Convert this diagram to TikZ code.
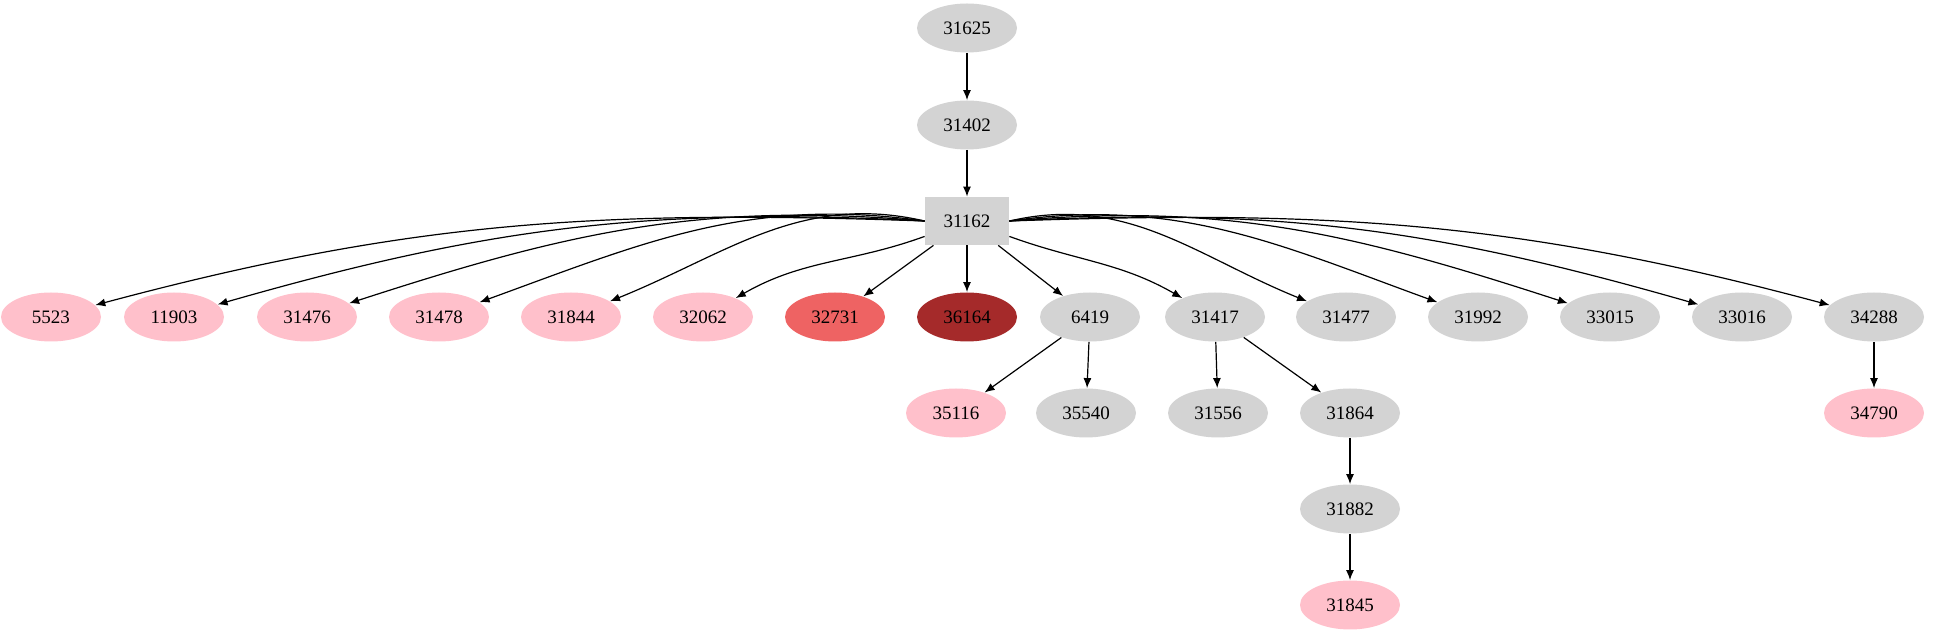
\documentclass[tikz,border=0pt]{standalone}
\usepackage{fontspec}
\setmainfont{Liberation Serif}
\usetikzlibrary{arrows.meta,shapes.geometric}
\definecolor{pk}{HTML}{FFC0CB}
\definecolor{lg}{HTML}{D3D3D3}
\definecolor{ir}{HTML}{EE6363}
\definecolor{br}{HTML}{A52A2A}
\begin{document}
\begin{tikzpicture}[x=0.5pt,y=-0.5pt,
  nd/.style={ellipse,fill=lg,minimum width=50pt,minimum height=24.5pt,inner sep=0pt,font=\fontsize{9.5}{10}\selectfont},
  pn/.style={nd,fill=pk},
  ar/.style={-{Latex[length=5pt,width=4pt]},line width=0.6pt}]
\useasboundingbox (0,0) rectangle (1934,635);
\node[nd] (n31625) at (967,28) {31625};
\node[nd] (n31402) at (967,125) {31402};
\node[rectangle,fill=lg,minimum width=42pt,minimum height=24pt,inner sep=0pt,font=\fontsize{9.5}{10}\selectfont] (n31162) at (967,221) {31162};
\foreach \n/\x/\s in {5523/51/pn,11903/174/pn,31476/307/pn,31478/439/pn,31844/571/pn,32062/703/pn,6419/1090/nd,31417/1215/nd,31477/1346/nd,31992/1478/nd,33015/1610/nd,33016/1742/nd,34288/1874/nd}
  \node[\s] (n\n) at (\x,317) {\n};
\node[nd,fill=ir] (n32731) at (835,317) {32731};
\node[nd,fill=br] (n36164) at (967,317) {36164};
\node[pn] (n35116) at (956,413) {35116};
\node[nd] (n35540) at (1086,413) {35540};
\node[nd] (n31556) at (1218,413) {31556};
\node[nd] (n31864) at (1350,413) {31864};
\node[pn] (n34790) at (1874,413) {34790};
\node[nd] (n31882) at (1350,509) {31882};
\node[pn] (n31845) at (1350,605) {31845};
\draw[ar] (n31625) -- (n31402);
\draw[ar] (n31402) -- (n31162);
\draw[ar] (n31162.west) to[out=178,in=15] (n5523);
\draw[ar] (n31162.west) to[out=177,in=16] (n11903);
\draw[ar] (n31162.west) to[out=175,in=18] (n31476);
\draw[ar] (n31162.west) to[out=172,in=20] (n31478);
\draw[ar] (n31162.west) to[out=167,in=22] (n31844);
\draw[ar] (n31162) to[out=200,in=30] (n32062);
\draw[ar] (n31162) -- (n32731);
\draw[ar] (n31162) -- (n36164);
\draw[ar] (n31162) -- (n6419);
\draw[ar] (n31162) to[out=-20,in=150] (n31417);
\draw[ar] (n31162.east) to[out=13,in=158] (n31477);
\draw[ar] (n31162.east) to[out=8,in=160] (n31992);
\draw[ar] (n31162.east) to[out=5,in=162] (n33015);
\draw[ar] (n31162.east) to[out=3,in=164] (n33016);
\draw[ar] (n31162.east) to[out=2,in=165] (n34288);
\draw[ar] (n6419) -- (n35116);
\draw[ar] (n6419) -- (n35540);
\draw[ar] (n31417) -- (n31556);
\draw[ar] (n31417) -- (n31864);
\draw[ar] (n34288) -- (n34790);
\draw[ar] (n31864) -- (n31882);
\draw[ar] (n31882) -- (n31845);
\end{tikzpicture}
\end{document}
